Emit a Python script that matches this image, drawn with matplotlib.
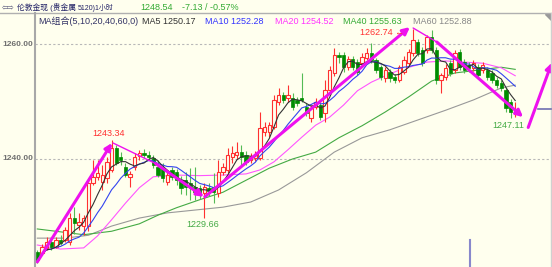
import numpy as np
import pandas as pd
import matplotlib
matplotlib.use("Agg")
import matplotlib.pyplot as plt
from matplotlib.lines import Line2D
from matplotlib.patches import Polygon

plt.rcParams['font.family'] = ['Liberation Sans', 'Noto Sans CJK SC', 'DejaVu Sans']

# ---------------- data ----------------
opens = [1223.8, 1223.6, 1224.5, 1225.5, 1224.7, 1225.9, 1225.9, 1225.5, 1229.7, 1228.5,
         1228.3, 1228.3, 1235.8, 1236.9, 1236.0, 1236.7, 1238.1, 1241.9, 1240.3, 1238.6,
         1236.8, 1238.6, 1240.5, 1241.0, 1240.7, 1240.2, 1238.6, 1238.4, 1236.0, 1238.1,
         1237.7, 1236.3, 1236.3, 1235.8, 1235.1, 1234.9, 1234.1, 1235.0, 1235.1, 1234.1,
         1237.7, 1238.1, 1240.3, 1240.7, 1241.2, 1240.7, 1239.8, 1240.2, 1240.2, 1244.7,
         1244.7, 1245.6, 1250.0, 1251.2, 1250.6, 1250.6, 1250.3, 1250.6, 1249.1, 1247.1,
         1249.1, 1249.4, 1248.0, 1252.0, 1255.0, 1258.1, 1258.1, 1256.0, 1257.4, 1256.9,
         1256.7, 1257.6, 1258.5, 1257.3, 1256.0, 1254.1, 1255.2, 1254.3, 1253.8, 1255.2,
         1256.8, 1258.5, 1260.4, 1259.0, 1259.0, 1261.3, 1259.0, 1253.8, 1254.3, 1256.7,
         1255.5, 1258.7, 1256.9, 1256.4, 1255.9, 1256.0, 1255.5, 1255.5, 1255.0, 1253.8,
         1253.3, 1252.0, 1250.0, 1247.9]
highs = [1224.1, 1225.2, 1226.4, 1225.9, 1226.4, 1226.7, 1228.1, 1230.6, 1231.6, 1230.6,
         1230.2, 1236.3, 1239.8, 1239.8, 1239.0, 1240.4, 1243.34, 1242.4, 1241.2, 1239.3,
         1237.9, 1241.0, 1241.6, 1241.7, 1241.4, 1240.7, 1239.8, 1239.3, 1238.0, 1238.6,
         1238.3, 1237.0, 1237.8, 1238.4, 1238.6, 1235.5, 1235.8, 1235.8, 1237.6, 1239.8,
         1239.3, 1241.9, 1242.3, 1242.9, 1242.4, 1241.4, 1241.0, 1241.4, 1248.2, 1246.5,
         1246.4, 1251.2, 1252.4, 1251.6, 1252.9, 1251.5, 1250.8, 1255.0, 1249.8, 1249.4,
         1250.6, 1250.0, 1253.8, 1256.3, 1259.3, 1258.7, 1258.7, 1258.0, 1257.9, 1257.4,
         1258.5, 1259.4, 1260.2, 1257.6, 1256.4, 1256.0, 1255.7, 1254.8, 1256.4, 1257.9,
         1259.2, 1262.74, 1261.0, 1259.5, 1261.6, 1262.5, 1259.5, 1255.0, 1256.5, 1257.2,
         1259.0, 1259.2, 1257.4, 1256.9, 1257.3, 1256.5, 1256.9, 1256.0, 1255.5, 1254.3,
         1253.8, 1252.5, 1250.5, 1249.9]
lows = [1221.9, 1223.3, 1224.1, 1224.2, 1224.4, 1225.0, 1225.5, 1225.0, 1227.0, 1227.6,
        1226.8, 1227.4, 1235.5, 1236.3, 1234.6, 1235.8, 1237.7, 1239.0, 1239.0, 1236.9,
        1235.1, 1238.1, 1239.8, 1240.2, 1239.9, 1238.5, 1236.9, 1236.0, 1235.5, 1236.3,
        1235.5, 1233.9, 1233.7, 1232.8, 1232.8, 1233.0, 1229.66, 1233.5, 1232.3, 1233.4,
        1237.2, 1237.6, 1239.3, 1240.0, 1238.6, 1239.0, 1239.3, 1239.6, 1239.8, 1244.0,
        1243.8, 1245.2, 1249.4, 1249.8, 1250.0, 1248.5, 1249.2, 1249.9, 1247.5, 1246.5,
        1248.7, 1246.8, 1246.4, 1251.4, 1254.5, 1256.7, 1255.2, 1255.5, 1255.5, 1254.7,
        1256.2, 1257.2, 1256.8, 1255.0, 1253.8, 1253.5, 1253.5, 1253.3, 1253.4, 1254.8,
        1256.3, 1258.0, 1258.0, 1256.2, 1258.5, 1258.5, 1253.0, 1251.5, 1253.8, 1254.5,
        1255.0, 1255.5, 1255.0, 1255.2, 1255.4, 1254.0, 1255.0, 1253.8, 1253.2, 1252.4,
        1251.9, 1248.2, 1247.11, 1247.3]
closes = [1222.4, 1224.6, 1225.5, 1224.7, 1225.9, 1225.4, 1227.6, 1229.7, 1228.9, 1229.0,
          1229.7, 1235.8, 1236.9, 1237.6, 1237.2, 1239.5, 1241.9, 1239.3, 1239.8, 1237.2,
          1237.3, 1240.3, 1241.0, 1240.7, 1240.3, 1239.0, 1237.2, 1236.7, 1237.2, 1236.9,
          1236.3, 1235.0, 1235.1, 1235.0, 1234.3, 1233.7, 1235.1, 1234.4, 1234.3, 1237.7,
          1238.6, 1240.7, 1241.0, 1241.2, 1240.4, 1239.5, 1240.3, 1240.7, 1245.4, 1245.6,
          1245.9, 1250.3, 1251.2, 1250.3, 1251.2, 1249.1, 1249.8, 1250.3, 1248.0, 1248.9,
          1250.0, 1247.3, 1252.0, 1255.5, 1258.1, 1257.8, 1256.0, 1257.4, 1256.0, 1255.2,
          1257.8, 1258.5, 1257.3, 1255.5, 1254.3, 1255.5, 1254.1, 1253.8, 1256.0, 1257.3,
          1258.7, 1260.7, 1258.5, 1256.7, 1261.3, 1259.0, 1253.8, 1254.6, 1255.9, 1255.0,
          1258.5, 1256.0, 1255.5, 1255.9, 1256.7, 1254.7, 1256.4, 1254.3, 1253.8, 1252.9,
          1252.4, 1248.9, 1248.2, 1248.54]

# long moving averages (candle index, value)
ma20_idx = [0, 5, 10, 13, 16, 19, 22, 25, 30, 35, 40, 45, 48, 51, 54, 57, 60, 63, 66, 69,
            72, 75, 78, 81, 84, 88, 92, 96, 100, 103]
ma20_val = [1225.0, 1224.3, 1224.5, 1226.6, 1229.4, 1232.3, 1235.0, 1236.9, 1237.2, 1237.1,
            1237.2, 1237.4, 1238.1, 1239.5, 1241.6, 1243.8, 1245.9, 1247.3, 1249.4, 1251.9,
            1253.4, 1254.5, 1255.5, 1256.2, 1256.9, 1257.1, 1256.9, 1256.7, 1255.9, 1254.52]
ma40_idx = [0, 5, 10, 16, 22, 26, 30, 35, 40, 45, 50, 55, 60, 65, 70, 75, 80, 85, 90, 95,
            100, 103]
ma40_val = [1227.8, 1227.3, 1226.8, 1227.4, 1228.7, 1230.2, 1231.5, 1232.9, 1234.2, 1236.3,
            1238.4, 1240.0, 1241.2, 1243.7, 1245.8, 1248.2, 1250.8, 1253.6, 1255.0, 1255.5,
            1256.0, 1255.63]
ma60_idx = [0, 6, 11, 16, 22, 28, 34, 40, 46, 52, 58, 64, 70, 76, 82, 88, 94, 100, 103]
ma60_val = [1226.2, 1226.2, 1226.7, 1228.3, 1229.7, 1230.6, 1231.1, 1231.6, 1232.5, 1234.6,
            1237.6, 1241.2, 1243.7, 1245.1, 1246.8, 1248.5, 1250.3, 1252.4, 1252.88]

y_ticks = [1240.0, 1260.0]
title_text = "伦敦金现 (贵金属"
title_code = "5120)1小时"
last_price = "1248.54"
change_text = "-7.13 / -0.57%"
ma_group = "MA组合(5,10,20,40,60,0)"
legend_items = [("MA5", "1250.17"), ("MA10", "1252.28"), ("MA20", "1254.52"),
                ("MA40", "1255.63"), ("MA60", "1252.88")]

# labelled extremes (candle index)
swing_high_1 = 16
swing_high_2 = 81
swing_low_1 = 36
swing_low_2 = 102

# hand-drawn trend arrows (index, price) start -> end, optional thin lead-in end
trend_arrows = [
    ((0.0, 1222.05), (16.1, 1242.8), None),
    ((16.3, 1242.8), (35.9, 1233.4), (25.5, 1239.2)),
    ((36.1, 1233.4), (80.3, 1263.0), None),
    ((81.0, 1262.84), (104.7, 1247.3), (86.1, 1260.4)),
    ((105.8, 1245.5), (110.9, 1256.8), None),
]

# ---------------- styling ----------------
BG = '#ffffee'
RED = '#ff3030'
GREEN_BODY = '#008c00'
GREEN_WICK = '#55bb55'
C_MA5, C_MA10, C_MA20, C_MA40, C_MA60 = '#333333', '#3344ee', '#ff55ff', '#44aa44', '#999999'
ARROW = '#ee11ee'

W, H = 552, 267
fig = plt.figure(figsize=(W / 100, H / 100), dpi=100, facecolor=BG)

def fx(px):
    return px / W

def fy(py):
    return 1 - py / H

X0, DX = 37.3, 4.64
Y0, DY = 44.3, 5.735  # pixel of 1260, pixels per unit

ax = fig.add_axes([fx(35), 0, (549 - 35) / W, (267 - 13) / H])
ax.set_facecolor('none')
ax.set_xlim((35 - X0) / DX, (549 - X0) / DX)
ax.set_ylim(1260 - (267 - Y0) / DY, 1260 + (Y0 - 13) / DY)
ax.axis('off')

# grid
for t in y_ticks:
    ax.axhline(t, color='#b8b8b8', lw=0.8, ls=(0, (2, 2)), zorder=0)

n = len(closes)
idx = np.arange(n)
o = np.array(opens); c = np.array(closes); hi = np.array(highs); lo = np.array(lows)
up = c >= o

# moving averages
s = pd.Series(c)
ma5 = s.rolling(5, min_periods=1).mean()
ma10 = s.rolling(10, min_periods=1).mean()
ax.plot(ma60_idx, ma60_val, color=C_MA60, lw=0.8, zorder=1)
ax.plot(ma40_idx, ma40_val, color=C_MA40, lw=0.8, zorder=1)
ax.plot(ma20_idx, ma20_val, color=C_MA20, lw=0.8, zorder=1)

# wicks
ax.vlines(idx[up], lo[up], hi[up], color=RED, lw=0.8, zorder=2)
ax.vlines(idx[~up], lo[~up], hi[~up], color=GREEN_WICK, lw=0.8, zorder=2)
# bodies
bw = 0.72
body_lo = np.minimum(o, c)
body_h = np.maximum(np.abs(c - o), 0.12)
ax.bar(idx[up], body_h[up], bottom=body_lo[up], width=bw, facecolor=BG,
       edgecolor=RED, linewidth=0.8, zorder=3)
ax.bar(idx[~up], body_h[~up], bottom=body_lo[~up], width=bw, facecolor=GREEN_BODY,
       edgecolor=GREEN_BODY, linewidth=0.5, zorder=3)

ax.plot(idx, ma10, color=C_MA10, lw=0.8, zorder=4)
ax.plot(idx, ma5, color=C_MA5, lw=0.8, zorder=4)

# trend arrows
for start, end, thin in trend_arrows:
    st = start
    if thin is not None:
        ax.plot([start[0], thin[0]], [start[1], thin[1]], color=ARROW, lw=1.0, zorder=5,
                solid_capstyle='round')
        st = thin
    ax.annotate('', xy=end, xytext=st, zorder=6, annotation_clip=False,
                arrowprops=dict(arrowstyle='-|>', color=ARROW, lw=2.2,
                                mutation_scale=10, shrinkA=0, shrinkB=0))

# extreme labels
ax.text(swing_high_1 - 0.6, hi[swing_high_1] + 1.1, f"{hi[swing_high_1]:.2f}", color=RED,
        fontsize=6.5, ha='center', va='center', zorder=7)
ax.text(swing_high_2 - 2.0, hi[swing_high_2] - 0.75, f"{hi[swing_high_2]:.2f} ←", color=RED,
        fontsize=6.5, ha='right', va='center', zorder=7)
ax.text(swing_low_1 - 0.4, lo[swing_low_1] - 1.1, f"{lo[swing_low_1]:.2f}", color='#44aa44',
        fontsize=6.5, ha='center', va='center', zorder=7)
ax.text(swing_low_2 - 0.6, lo[swing_low_2] - 1.2, f"{lo[swing_low_2]:.2f}", color='#44aa44',
        fontsize=6.5, ha='center', va='center', zorder=7)

# y tick labels
for t in y_ticks:
    fig.text(fx(33), fy(Y0 + (1260 - t) * DY), f"{t:.2f}", color='#707070', fontsize=6,
             fontweight='bold', ha='right', va='center')

# frame lines
fig.add_artist(Line2D([fx(0), fx(W)], [fy(13), fy(13)], color='#b0b0b0', lw=1.0))
fig.add_artist(Line2D([fx(35), fx(35)], [fy(13), fy(H)], color='#a8a8a8', lw=1.5))
fig.add_artist(Line2D([fx(550.5), fx(550.5)], [fy(13), fy(H)], color='#d0d0d0', lw=1.0))
fig.add_artist(Polygon([[fx(545), fy(14)], [fx(551), fy(14)], [fx(551), fy(20)]],
                       closed=True, color='#999999'))
fig.add_artist(Line2D([fx(538), fx(551)], [fy(109), fy(109)], color='#7070b0', lw=1.2))
fig.add_artist(Line2D([fx(470), fx(470)], [fy(240), fy(H)], color='#8888cc', lw=1.5))

# header
fig.text(fx(2), fy(7.5), "⇦⇨", color='#555577', fontsize=5.5, va='center', ha='left',
         family=['DejaVu Sans'])
fig.text(fx(17), fy(7.5), title_text, color='#222266', fontsize=5.6, va='center', ha='left')
fig.text(fx(78), fy(7.5), title_code, color='#222266', fontsize=5.0, va='center', ha='left')
fig.text(fx(140), fy(7.5), last_price, color='#33aa33', fontsize=6.5, va='center', ha='left')
fig.text(fx(182), fy(7.5), change_text, color='#33aa33', fontsize=6.5, va='center', ha='left')

# legend row
fig.text(fx(38), fy(21.5), ma_group, color='#333366', fontsize=6.5, va='center', ha='left')
leg_x = [142, 205, 275, 343, 413]
leg_c = [C_MA5, '#3333ff', '#ff33ff', '#33aa33', '#888888']
for (name, val), lx, col in zip(legend_items, leg_x, leg_c):
    fig.text(fx(lx), fy(21.5), f"{name} {val}", color=col, fontsize=6.5, va='center', ha='left')

fig.savefig('out.png', dpi=100, facecolor=BG)
